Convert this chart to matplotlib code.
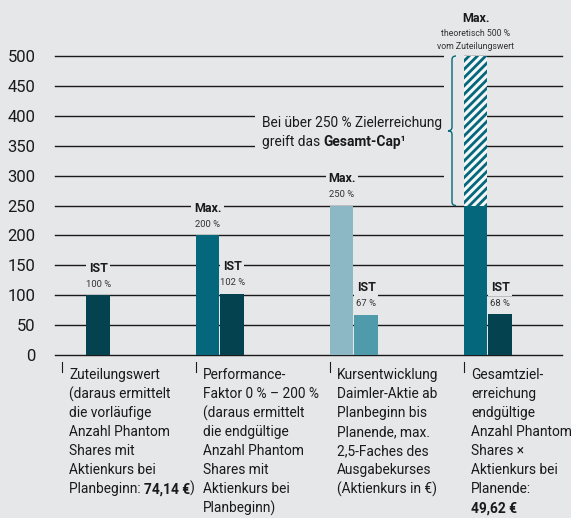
import matplotlib.pyplot as plt
from matplotlib.patches import Rectangle, PathPatch
from matplotlib.path import Path

plt.rcParams['font.family'] = ['Roboto', 'DejaVu Sans']

# Werte in Prozent
ist_values = [100, 102, 67, 68]
max_values = [None, 200, 250, 250]
theoretical_max = 500
cap_value = 250

max_labels = [None, '200 %', '250 %', None]
ist_labels = ['100 %', '102 %', '67 %', '68 %']

categories = [
    ['Zuteilungswert', '(daraus ermittelt', 'die vorläufige', 'Anzahl Phantom',
     'Shares mit', 'Aktienkurs bei', 'Planbeginn: **74,14 €**)'],
    ['Performance-', 'Faktor 0 % – 200 %', '(daraus ermittelt', 'die endgültige',
     'Anzahl Phantom', 'Shares mit', 'Aktienkurs bei', 'Planbeginn)'],
    ['Kursentwicklung', 'Daimler-Aktie ab', 'Planbeginn bis', 'Planende, max.',
     '2,5-Faches des', 'Ausgabekurses', '(Aktienkurs in €)'],
    ['Gesamtziel-', 'erreichung', 'endgültige', 'Anzahl Phantom', 'Shares ×',
     'Aktienkurs bei', 'Planende:', '**49,62 €**'],
]
cap_note = ['Bei über 250 % Zielerreichung', 'greift das **Gesamt-Cap¹**']

bg = '#e6e7e9'
ink = '#1a1a1a'
max_colors = [None, '#05677b', '#8bb8c4', '#05677b']
ist_colors = ['#05424f', '#05424f', '#4f9bab', '#05424f']
text_size = 9.9

fig = plt.figure(figsize=(5.71, 5.18), dpi=100, facecolor=bg)
ax = fig.add_axes([55 / 571, 163 / 518, 507 / 571, 299 / 518], facecolor=bg)
ax.set_xlim(0, 507 / 134)
ax.set_ylim(0, 500)
for s in ax.spines.values():
    s.set_visible(False)
ax.set_xticks([])
ax.set_yticks(range(0, 501, 50))
ax.tick_params(axis='y', length=0, pad=14, labelsize=12, labelcolor=ink)
ax.yaxis.grid(True, color=ink, lw=1.0)
for gl in ax.get_ygridlines():
    gl.set_clip_on(False)
ax.set_axisbelow(True)

px = 1 / 134          # ein Pixel in x-Dateneinheiten
w = 23.5 * px         # Balkenbreite
offset = 7 * px       # Abstand Gruppenbeginn
lefts = [offset + i for i in range(len(ist_values))]


def box_text(x, y, s, dy, size, weight='normal', color=ink, family=None, box=True):
    kw = dict(xy=(x, y), xytext=(0, dy), textcoords='offset points',
              ha='center', va='center', fontsize=size, fontweight=weight,
              color=color, zorder=4, annotation_clip=False)
    if family:
        kw['family'] = family
    if box:
        kw['bbox'] = dict(boxstyle='square,pad=0.2', fc=bg, ec='none')
    return ax.annotate(s, **kw)


def rich_line(x, y, line, dx, dy, size=text_size):
    # Zeile mit **fett** markierten Abschnitten
    prev = None
    for j, seg in enumerate(line.split('**')):
        if not seg:
            continue
        weight = 'bold' if j % 2 else 'normal'
        if prev is None:
            prev = ax.annotate(seg, xy=(x, y), xytext=(dx, dy), textcoords='offset points',
                               ha='left', va='baseline', fontsize=size, fontweight=weight,
                               color=ink, zorder=4, annotation_clip=False)
        else:
            prev = ax.annotate(seg, xy=(1, 0), xycoords=prev, ha='left', va='bottom',
                               fontsize=size, fontweight=weight, color=ink, zorder=4,
                               annotation_clip=False)
    return prev


for i, left in enumerate(lefts):
    # Max-Balken
    if max_values[i] is not None:
        xm = left + w / 2
        ax.bar(xm, max_values[i], width=w, color=max_colors[i], zorder=2)
        if max_labels[i]:
            box_text(xm, max_values[i], 'Max.', 19.5, 9, 'bold')
            box_text(xm, max_values[i], max_labels[i], 8, 6.8, color='#333333', box=False)
    # IST-Balken
    xi = left + w + 1 * px + w / 2
    ax.bar(xi, ist_values[i], width=w, color=ist_colors[i], zorder=2)
    box_text(xi, ist_values[i], 'IST', 19.5, 9, 'bold')
    box_text(xi, ist_values[i], ist_labels[i], 8, 6.8, color='#333333', box=False)

    # Kategorie-Markierung und Beschreibung
    ax.plot([left, left], [-12, -28], color=ink, lw=0.8, clip_on=False)
    for k, line in enumerate(categories[i]):
        rich_line(left, 0, line, 5, -17.5 - k * 13.7)

# theoretisches Maximum oberhalb des Caps (schraffiert)
xm = lefts[3] + w / 2
plt.rcParams['hatch.linewidth'] = 2.0
ax.bar(xm, theoretical_max - cap_value, bottom=cap_value, width=w, facecolor='#f4f6f7',
       edgecolor=max_colors[3], hatch='////', lw=0, zorder=2)
box_text(xm, theoretical_max, 'Max.', 27, 9, 'bold', box=False)
box_text(xm, theoretical_max, 'theoretisch 500 %', 16.5, 6.3, color='#333333',
         family=['Liberation Sans Narrow', 'Roboto'], box=False)
box_text(xm, theoretical_max, 'vom Zuteilungswert', 6.5, 6.3, color='#333333',
         family=['Liberation Sans Narrow', 'Roboto'], box=False)

# geschweifte Klammer für den Bereich 250 % bis 500 %
xb = lefts[3] - 12 * px
hx, hy = 4 * px, 6
ymid = (cap_value + theoretical_max) / 2
verts = [(xb + hx, theoretical_max), (xb, theoretical_max), (xb, theoretical_max - hy),
         (xb, ymid + hy), (xb, ymid), (xb - hx, ymid),
         (xb, ymid), (xb, ymid - hy),
         (xb, cap_value + hy), (xb, cap_value), (xb + hx, cap_value)]
codes = [Path.MOVETO, Path.CURVE3, Path.CURVE3,
         Path.LINETO, Path.CURVE3, Path.CURVE3,
         Path.CURVE3, Path.CURVE3,
         Path.LINETO, Path.CURVE3, Path.CURVE3]
ax.add_patch(Rectangle((xb - 8 * px, cap_value + 8), 20 * px, theoretical_max - cap_value + 10,
                       fc=bg, ec='none', zorder=1, clip_on=False))
ax.add_patch(PathPatch(Path(verts, codes), fc='none', ec=max_colors[3], lw=1.0, zorder=3,
                       clip_on=False))

# Hinweis zum Gesamt-Cap
note_x = 207 * px
ax.add_patch(Rectangle((note_x - 7 * px, 330), xb - 8 * px - (note_x - 7 * px), 90,
                       fc=bg, ec='none', zorder=1))
for k, line in enumerate(cap_note):
    rich_line(note_x, 381, line, 0, -k * 13.7)

fig.savefig('out.png', dpi=100, facecolor=bg)
